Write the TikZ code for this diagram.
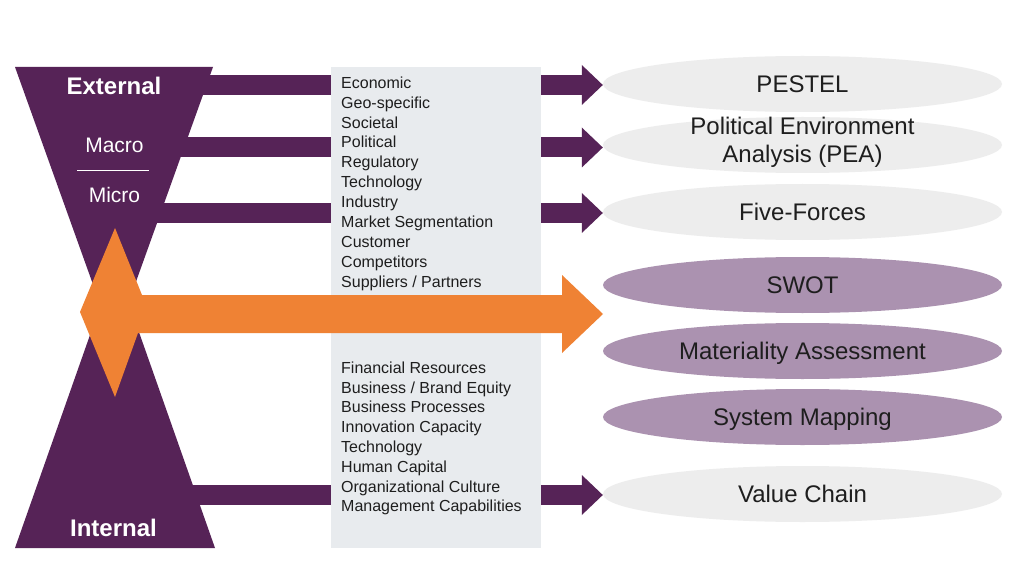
\documentclass[tikz,border=0pt]{standalone}
\usepackage{fontspec}
\setmainfont{Liberation Sans}
\usetikzlibrary{arrows.meta,shapes.geometric}
\definecolor{dpurple}{HTML}{562357}
\definecolor{lilac}{HTML}{AB92B0}
\definecolor{lgrey}{HTML}{EDEDED}
\definecolor{boxgrey}{HTML}{E8EBEE}
\definecolor{orng}{HTML}{EF8234}
\definecolor{txt}{HTML}{1E1E1E}
\begin{document}
\begin{tikzpicture}[x=1pt,y=-1pt,
  tool/.style={ellipse, minimum width=399pt, minimum height=56pt, inner sep=0pt,
    font=\fontsize{24}{28}\selectfont, text=txt, text height=17.2pt, text depth=0pt},
  plain/.style={tool, fill=lgrey},
  hilite/.style={tool, fill=lilac},
  lbl/.style={anchor=base, inner sep=0pt, font=\fontsize{24}{28}\selectfont, text=txt},
  parrow/.style={draw=dpurple, line width=20pt,
    -{Triangle[length=21pt, width=40pt, line width=0pt]}},
  item/.style={anchor=base west, inner sep=0pt, font=\fontsize{16}{19}\selectfont, text=txt},
  side/.style={anchor=base, inner sep=0pt, text=white},
  listbox/.style={fill=boxgrey, minimum width=210pt, minimum height=481pt, inner sep=0pt}
]
\fill[white] (0,0) rectangle (1024,585);
\useasboundingbox (0,0) rectangle (1024,585);

% tool ellipses
\node[plain]  (pestel) at (802.5,84) {PESTEL};
\node[plain]  (pea)    at (802.5,145) {};
\node[lbl] (pea1) at (802.5,135) {Political Environment};
\node[lbl] (pea2) at (802.5,163) {Analysis (PEA)};
\node[plain]  (five)   at (802.5,212) {Five-Forces};
\node[hilite] (swot)   at (802.5,285) {SWOT};
\node[hilite] (mat)    at (802.5,351) {Materiality Assessment};
\node[hilite] (sys)    at (802.5,417) {System Mapping};
\node[plain]  (value)  at (802.5,494) {Value Chain};

% purple arrows from the hourglass
\coordinate (h1) at (114,85);
\coordinate (h2) at (114,147.5);
\coordinate (h3) at (114,213);
\coordinate (h4) at (114,495);
\draw[parrow] (h1) -- (h1 -| pestel.west);
\draw[parrow] (h2) -- (h2 -| pea.west);
\draw[parrow] (h3) -- (h3 -| five.west);
\draw[parrow] (h4) -- (h4 -| value.west);

% hourglass
\fill[dpurple] (15,67) -- (213,67) -- (114,343) -- cycle;
\fill[dpurple] (15,548) -- (215,548) -- (115,264) -- cycle;

% list box
\node[listbox] (list) at (436,307.5) {};
\foreach \t [count=\i from 0] in {Economic, Geo-specific, Societal, Political, Regulatory,
  Technology, Industry, Market Segmentation, Customer, Competitors, Suppliers / Partners}
  \node[item] (ext\i) at (341,{88.3+19.9*\i}) {\t};
\foreach \t [count=\i from 0] in {Financial Resources, Business / Brand Equity,
  Business Processes, Innovation Capacity, Technology, Human Capital,
  Organizational Culture, Management Capabilities}
  \node[item] (int\i) at (341,{373.3+19.8*\i}) {\t};

% orange double arrow
\fill[orng] (115,228) -- (142,295) -- (562,295) -- (562,275) -- (603,314)
  -- (562,353) -- (562,333) -- (138,333) -- (115,397) -- (80,312) -- cycle;

% hourglass labels
\node[side, font=\bfseries\fontsize{24}{28}\selectfont] (ext) at (114,95) {External};
\node[side, font=\fontsize{21}{25}\selectfont] (macro) at (114.5,153) {Macro};
\node[side, font=\fontsize{21}{25}\selectfont] (micro) at (114.5,202.5) {Micro};
\coordinate (ml) at (77,171);
\coordinate (mr) at (149,171);
\draw[white, line width=1pt] (ml) -- (mr);
\node[side, font=\bfseries\fontsize{24}{28}\selectfont] (int) at (113.5,536.5) {Internal};
\end{tikzpicture}
\end{document}
